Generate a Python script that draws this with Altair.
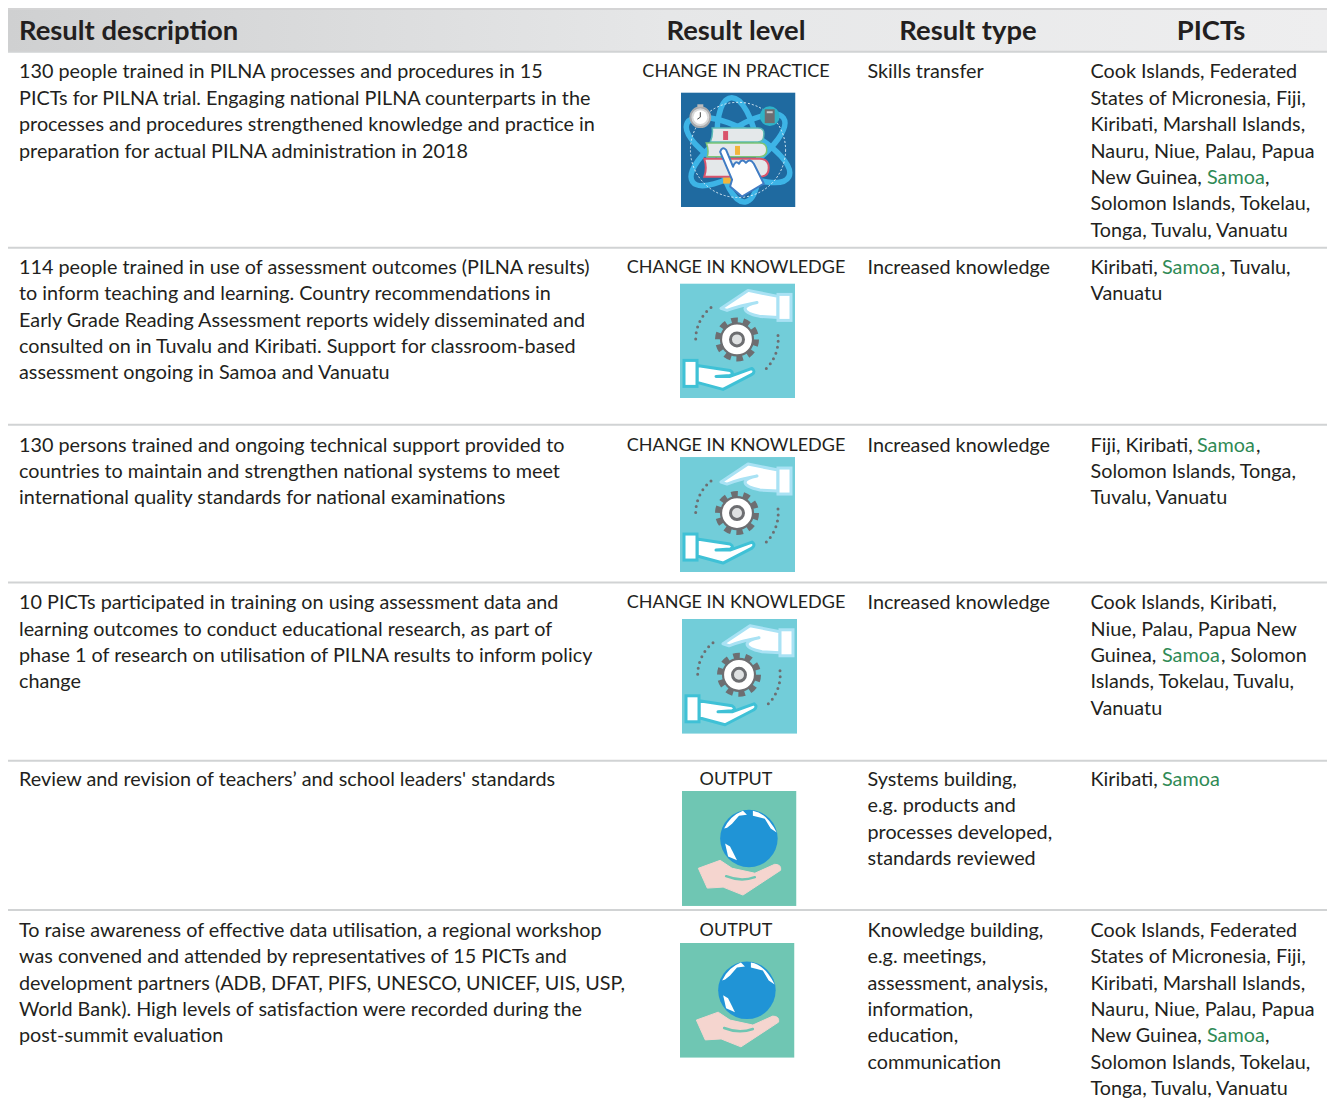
import base64
import altair as alt
import pandas as pd

FONT = "Lato"
BODY = 19.8
LEVEL = 18
HEAD = 27.4
INK = "#231f20"
GREEN = "#2f8a55"

headers = ["Result description", "Result level", "Result type", "PICTs"]
descriptions = [
    ["130 people trained in PILNA processes and procedures in 15",
     "PICTs for PILNA trial. Engaging national PILNA counterparts in the",
     "processes and procedures strengthened knowledge and practice in",
     "preparation for actual PILNA administration in 2018"],
    ["114 people trained in use of assessment outcomes (PILNA results)",
     "to inform teaching and learning. Country recommendations in",
     "Early Grade Reading Assessment reports widely disseminated and",
     "consulted on in Tuvalu and Kiribati. Support for classroom-based",
     "assessment ongoing in Samoa and Vanuatu"],
    ["130 persons trained and ongoing technical support provided to",
     "countries to maintain and strengthen national systems to meet",
     "international quality standards for national examinations"],
    ["10 PICTs participated in training on using assessment data and",
     "learning outcomes to conduct educational research, as part of",
     "phase 1 of research on utilisation of PILNA results to inform policy",
     "change"],
    ["Review and revision of teachers’ and school leaders' standards"],
    ["To raise awareness of effective data utilisation, a regional workshop",
     "was convened and attended by representatives of 15 PICTs and",
     "development partners (ADB, DFAT, PIFS, UNESCO, UNICEF, UIS, USP,",
     "World Bank). High levels of satisfaction were recorded during the",
     "post-summit evaluation"],
]
levels = ["CHANGE IN PRACTICE", "CHANGE IN KNOWLEDGE", "CHANGE IN KNOWLEDGE",
          "CHANGE IN KNOWLEDGE", "OUTPUT", "OUTPUT"]
types = [
    ["Skills transfer"],
    ["Increased knowledge"],
    ["Increased knowledge"],
    ["Increased knowledge"],
    ["Systems building,", "e.g. products and", "processes developed,", "standards reviewed"],
    ["Knowledge building,", "e.g. meetings,", "assessment, analysis,", "information,", "education,", "communication"],
]
# "|" marks the country picked out in green
picts = [
    ["Cook Islands, Federated", "States of Micronesia, Fiji,", "Kiribati, Marshall Islands,",
     "Nauru, Niue, Palau, Papua", "New Guinea, |Samoa|,", "Solomon Islands, Tokelau,",
     "Tonga, Tuvalu, Vanuatu"],
    ["Kiribati, |Samoa|, Tuvalu,", "Vanuatu"],
    ["Fiji, Kiribati, |Samoa|,", "Solomon Islands, Tonga,", "Tuvalu, Vanuatu"],
    ["Cook Islands, Kiribati,", "Niue, Palau, Papua New", "Guinea, |Samoa|, Solomon",
     "Islands, Tokelau, Tuvalu,", "Vanuatu"],
    ["Kiribati, |Samoa|"],
    ["Cook Islands, Federated", "States of Micronesia, Fiji,", "Kiribati, Marshall Islands,",
     "Nauru, Niue, Palau, Papua", "New Guinea, |Samoa|,", "Solomon Islands, Tokelau,",
     "Tonga, Tuvalu, Vanuatu"],
]
icon_names = ["practice", "knowledge", "knowledge", "knowledge", "output", "output"]

# layout of the table, in page pixels
row_first_line = [71, 268, 447, 606, 784, 936]
LEAD = 26.58
col_desc, col_level, col_type, col_picts = 19, 736, 867.5, 1090.5
head_x = [19, 736, 968, 1211]
head_align = ["left", "center", "center", "center"]
sep_y = [50, 247.5, 426, 585, 764.5, 915]
icon_x = [738, 737.5, 737.5, 739.5, 739, 737]
icon_y = [149, 341.5, 516.5, 679.5, 853, 1006]
green_x = [(1207, 1265), (1162, 1221), (1197, 1256), (1162, 1221), (1162, 1221), (1207, 1265)]

SVG_PRACTICE = """<svg xmlns='http://www.w3.org/2000/svg' viewBox='0 0 116 116'>
<rect width='116' height='116' fill='#1f6aa0'/>
<g fill='none' stroke='#3db4e6' stroke-width='5.5'>
<ellipse cx='58' cy='58' rx='20' ry='53' transform='rotate(-8 58 58)'/>
<ellipse cx='58' cy='58' rx='58' ry='21' transform='rotate(28 58 58)'/>
<ellipse cx='58' cy='58' rx='56' ry='20' transform='rotate(-35 58 58)'/>
</g>
<circle cx='58' cy='58' r='48' fill='none' stroke='#dfeef7' stroke-width='1' stroke-dasharray='2 2'/>
<circle cx='20' cy='25' r='10' fill='#d8d8d8' stroke='#a7a9ac' stroke-width='2'/>
<circle cx='20' cy='25' r='7' fill='#fff'/>
<path d='M20 20v5l-3 2' stroke='#444' fill='none'/><rect x='17' y='12' width='6' height='3' fill='#bbb'/>
<circle cx='90' cy='24' r='10' fill='#2fb3c9'/><rect x='85' y='17' width='10' height='14' fill='#6d6e71'/>
<rect x='87' y='19' width='6' height='2' fill='#ccc'/>
<path d='M32 36H78Q85 36 84 43Q84 50 78 50H30Q33 43 32 36Z' fill='#e4e8ea' stroke='#5ab9b5' stroke-width='1.5'/>
<rect x='43' y='39' width='5' height='9' fill='#d9546c'/>
<path d='M26 51H80Q87 51 87 58Q87 64 80 65H27Q29 58 26 51Z' fill='#e4e8ea' stroke='#7cc576' stroke-width='1.5'/>
<rect x='55' y='54' width='5' height='9' fill='#f2b53a'/>
<path d='M24 67H80Q89 67 89 76Q89 85 80 85H24Q27 76 24 67Z' fill='#e4e8ea' stroke='#d9546c' stroke-width='2'/>
<rect x='43' y='86' width='8' height='6' fill='#f2b53a'/>
<path d='M40 60Q42 54 46 58L53 75Q55 68 59 72Q62 66 66 71Q70 66 74 72L84 92L62 105L50 95L52 88Z' fill='#fff' stroke='#3f7cc4' stroke-width='2' stroke-linejoin='round'/>
</svg>"""

SVG_KNOWLEDGE = """<svg xmlns='http://www.w3.org/2000/svg' viewBox='0 0 115 115'>
<rect width='115' height='115' fill='#72cdd9'/>
<g fill='none' stroke='#6d6e71' stroke-width='3' stroke-linecap='round' stroke-dasharray='0 6'>
<path d='M31 24A41 41 0 0 0 16 61'/><path d='M98 52A41 41 0 0 1 83 88'/>
</g>
<path d='M41 25L68 7L98 13V34L80 33Q65 30 65 25Q66 21 77 19Q60 22 47 27Z' fill='#fff' stroke='#a9e2f4' stroke-width='3' stroke-linejoin='round'/>
<rect x='98' y='11' width='13' height='26' fill='#fff' stroke='#a9e2f4' stroke-width='3'/>
<path d='M17 82L50 87Q55 90 50 92L36 93L50 93L72 85Q76 88 72 91L43 106L17 99Z' fill='#fff' stroke='#3fc1d6' stroke-width='3' stroke-linejoin='round'/>
<rect x='4' y='77' width='13' height='26' fill='#fff' stroke='#3fc1d6' stroke-width='3'/>
<g stroke='#6d6e71' fill='#fff'>
<circle cx='57' cy='56' r='19' stroke='#6d6e71' stroke-width='6' stroke-dasharray='6.5 5.4' fill='none'/>
<circle cx='57' cy='56' r='16' stroke-width='2.2'/>
<circle cx='57' cy='56' r='6.5' fill='#dfe1e2' stroke-width='3'/>
</g>
</svg>"""

SVG_OUTPUT = """<svg xmlns='http://www.w3.org/2000/svg' viewBox='0 0 116 116'>
<rect width='116' height='116' fill='#6fc6b3'/>
<circle cx='68' cy='48' r='29' fill='#2094d6'/>
<path d='M43 38Q49 25 62 20L66 24L58 25L51 33L46 37Z' fill='#fff'/>
<path d='M72 20Q86 22 96 42L90 38L84 28L72 25Z' fill='#fff'/>
<path d='M44 53L49 56L56 70L47 66Z' fill='#fff'/>
<path d='M17 78L39 70L51 78L74 83L94 74Q101 74 100 80L62 105L42 97L26 98Z' fill='#f5d5cf' stroke='#f5d5cf' stroke-linejoin='round'/>
<path d='M45 86Q60 92 74 87' fill='none' stroke='#6fc6b3' stroke-width='2.5' stroke-linecap='round'/>
</svg>"""

ICONS = {"practice": SVG_PRACTICE, "knowledge": SVG_KNOWLEDGE, "output": SVG_OUTPUT}


def data_uri(svg):
    return "data:image/svg+xml;base64," + base64.b64encode(svg.encode()).decode()


rows = []


def add(text, x, y, kind):
    rows.append({"text": text, "x": x, "y": y, "kind": kind})


for r in range(6):
    y0 = row_first_line[r]
    for i, t in enumerate(descriptions[r]):
        add(t, col_desc, y0 + i * LEAD, "plain")
    for i, t in enumerate(types[r]):
        add(t, col_type, y0 + i * LEAD, "plain")
    for i, t in enumerate(picts[r]):
        parts = t.split("|")
        y = y0 + i * LEAD
        add(parts[0], col_picts, y, "plain")
        if len(parts) == 3:
            add(parts[1], green_x[r][0], y, "green")
            if parts[2]:
                add(parts[2], green_x[r][1], y, "plain")

RIGHT = 1327
text_df = pd.DataFrame(rows)
level_df = pd.DataFrame({"text": levels, "x": col_level, "y": row_first_line})
head_df = pd.DataFrame({"text": headers, "x": head_x, "y": 30, "align": head_align})
sep_df = pd.DataFrame({"y": sep_y, "x": 8, "x2": RIGHT})
icon_df = pd.DataFrame({"url": [data_uri(ICONS[n]) for n in icon_names], "x": icon_x, "y": icon_y})
band_df = pd.DataFrame({"x": [8], "x2": [RIGHT], "y": [7], "y2": [50]})

W, H = 1319, 1090
X = alt.X("x:Q", scale=alt.Scale(domain=[8, RIGHT], range=[0, W]), axis=None)
Y = alt.Y("y:Q", scale=alt.Scale(domain=[6, 1104.5], range=[0, H]), axis=None)

band = alt.Chart(band_df).mark_rect(
    color=alt.Gradient(
        gradient="linear", x1=0, x2=1, y1=0, y2=0,
        stops=[alt.GradientStop(color="#cfd0d1", offset=0),
               alt.GradientStop(color="#e6e7e8", offset=0.5),
               alt.GradientStop(color="#eeeeef", offset=1)],
    )
).encode(x=X, x2="x2:Q", y=Y, y2="y2:Q")

top_rule = alt.Chart(band_df).mark_rule(color="#d4d4d5", strokeWidth=2).encode(x=X, x2="x2:Q", y=Y)
seps = alt.Chart(sep_df).mark_rule(color="#d1d3d4", strokeWidth=2).encode(x=X, x2="x2:Q", y=Y)

head_left = alt.Chart(head_df[head_df["align"] == "left"]).mark_text(
    font=FONT, fontSize=HEAD, fontWeight="bold", align="left", baseline="middle", color=INK
).encode(x=X, y=Y, text="text:N")
head_mid = alt.Chart(head_df[head_df["align"] == "center"]).mark_text(
    font=FONT, fontSize=HEAD, fontWeight="bold", align="center", baseline="middle", color=INK
).encode(x=X, y=Y, text="text:N")

body = alt.Chart(text_df).mark_text(
    font=FONT, fontSize=BODY, align="left", baseline="middle"
).encode(
    x=X, y=Y, text="text:N",
    color=alt.Color("kind:N", scale=alt.Scale(domain=["plain", "green"], range=[INK, GREEN]), legend=None),
)
level = alt.Chart(level_df).mark_text(
    font=FONT, fontSize=LEVEL, align="center", baseline="middle", color=INK
).encode(x=X, y=Y, text="text:N")

icons = alt.Chart(icon_df).mark_image(width=115, height=115).encode(x=X, y=Y, url="url:N")

chart = alt.layer(band, top_rule, seps, head_left, head_mid, body, level, icons).properties(
    width=W, height=H, padding=0, background="white",
    autosize=alt.AutoSizeParams(type="none"),
).configure_view(stroke=None)

chart.save("out.html", embed_options={"renderer": "svg", "actions": False})
